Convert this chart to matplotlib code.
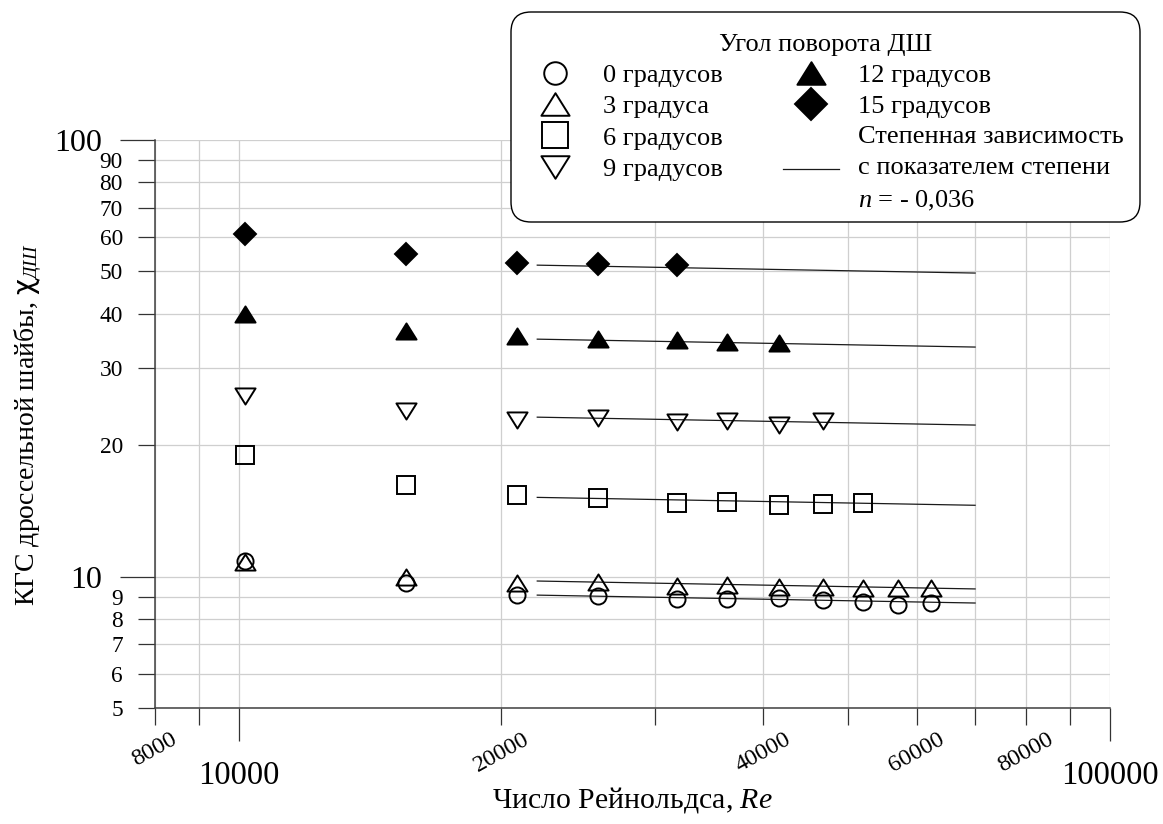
import matplotlib
matplotlib.use('Agg')
import matplotlib.pyplot as plt
import numpy as np
from matplotlib.ticker import FixedLocator, FixedFormatter
from matplotlib.lines import Line2D
from matplotlib.path import Path
from matplotlib.patches import FancyBboxPatch
from matplotlib.transforms import IdentityTransform

plt.rcParams['font.family'] = ['Liberation Serif', 'DejaVu Serif']
plt.rcParams['mathtext.fontset'] = 'custom'
plt.rcParams['mathtext.rm'] = 'Liberation Serif'
plt.rcParams['mathtext.it'] = 'Liberation Serif:italic'
plt.rcParams['mathtext.bf'] = 'Liberation Serif:bold'
plt.rcParams['mathtext.sf'] = 'DejaVu Sans'

# ---------------- data ----------------
re_vals = [10170, 15540, 20850, 25830, 31810, 36310, 41690, 46880, 52000, 57150, 62370]
k_0deg = [10.87, 9.68, 9.08, 9.04, 8.88, 8.88, 8.93, 8.85, 8.77, 8.62, 8.70]
k_3deg = [10.83, 10.0, 9.66, 9.71, 9.52, 9.57, 9.49, 9.49, 9.44, 9.41, 9.44]
k_6deg = [19.0, 16.23, 15.39, 15.12, 14.73, 14.81, 14.60, 14.68, 14.73]
k_9deg = [25.98, 24.0, 22.86, 23.06, 22.65, 22.77, 22.26, 22.73]
k_12deg = [40.0, 36.6, 35.5, 35.0, 34.8, 34.5, 34.35]
k_15deg = [60.9, 54.7, 52.4, 51.9, 51.7]

series_labels = ['0 градусов', '3 градуса', '6 градусов', '9 градусов', '12 градусов', '15 градусов']

fit_re = [22000, 70000]
fit_n = -0.036
fit_k_start = [9.08, 9.78, 15.2, 23.2, 35.0, 51.7]
fit_label = 'Степенная зависимость\nс показателем степени\n$n$ = - 0,036'

x_major = [10000, 100000]
x_minor = [8000, 9000, 20000, 30000, 40000, 50000, 60000, 70000, 80000, 90000]
x_minor_labels = ['8000', '', '20000', '', '40000', '', '60000', '', '80000', '']
y_major = [10, 100]
y_minor = [5, 6, 7, 8, 9, 20, 30, 40, 50, 60, 70, 80, 90]

# ---------------- figure ----------------
W, H = 1163, 824
fig = plt.figure(figsize=(W / 100, H / 100), dpi=100)
ax = fig.add_axes([154.6 / W, 1 - 708.3 / H, (1110 - 154.6) / W, (708.3 - 140) / H])
ax.set_xscale('log')
ax.set_yscale('log')
ax.set_xlim(8000, 100000)
ax.set_ylim(5, 100)

tri_up = Path([(-1, -0.8), (1, -0.8), (0, 0.8), (-1, -0.8)], closed=True)
tri_dn = Path([(-1, 0.8), (1, 0.8), (0, -0.8), (-1, 0.8)], closed=True)

styles = [
    dict(marker='o', ms=11.6, mfc='none'),
    dict(marker=tri_up, ms=14.5, mfc='none'),
    dict(marker='s', ms=13.5, mfc='none'),
    dict(marker=tri_dn, ms=14.5, mfc='none'),
    dict(marker=tri_up, ms=14.5, mfc='black'),
    dict(marker='D', ms=11.5, mfc='black'),
]
series = [k_0deg, k_3deg, k_6deg, k_9deg, k_12deg, k_15deg]

handles = []
for vals, st, lab in zip(series, styles, series_labels):
    h, = ax.plot(re_vals[:len(vals)], vals, ls='none', mec='black', mew=1.4,
                 label=lab, zorder=3, **st)
    handles.append(h)

fre = np.array(fit_re, dtype=float)
for c0 in fit_k_start:
    ax.plot(fre, c0 * (fre / fre[0]) ** fit_n, color='#1a1a1a', lw=0.9, zorder=2)
fit_handle = Line2D([], [], color='#1a1a1a', lw=0.9)

# ---------------- axes styling ----------------
ax.xaxis.set_major_locator(FixedLocator(x_major))
ax.xaxis.set_minor_locator(FixedLocator(x_minor))
ax.xaxis.set_major_formatter(FixedFormatter(['10000', '100000']))
ax.xaxis.set_minor_formatter(FixedFormatter(x_minor_labels))
ax.yaxis.set_major_locator(FixedLocator(y_major))
ax.yaxis.set_minor_locator(FixedLocator(y_minor))
ax.yaxis.set_major_formatter(FixedFormatter([str(v) for v in y_major]))
ax.yaxis.set_minor_formatter(FixedFormatter([str(v) for v in y_minor]))

ax.grid(True, which='both', color='#cfcfcf', lw=0.9, zorder=0)
ax.set_axisbelow(True)
for s in ['top', 'right']:
    ax.spines[s].set_visible(False)
for s in ['left', 'bottom']:
    ax.spines[s].set_color('#404040')
    ax.spines[s].set_linewidth(1.1)

ax.tick_params(axis='both', which='both', direction='out', color='#333333', width=0.9)
ax.tick_params(axis='y', which='major', length=25, labelsize=23, pad=13.0)
ax.tick_params(axis='y', which='minor', length=12.3, labelsize=16.8, pad=10.5)
ax.tick_params(axis='x', which='major', length=24, labelsize=23.5, pad=13.5)
ax.tick_params(axis='x', which='minor', length=12, labelsize=17.5, pad=3, labelrotation=29)

ax.set_xlabel('Число Рейнольдса, $Re$', fontsize=21.5)
ax.xaxis.label.set_va('center')
ax.xaxis.set_label_coords(0.5, (708.3 - 800) / (708.3 - 140))
ax.set_ylabel('КГС дроссельной шайбы, $\\mathsf{\\chi}_{ДШ}$', fontsize=20)
ax.yaxis.label.set_va('center')
ax.yaxis.set_label_coords((28 - 154.6) / (1110 - 154.6), 0.5)

# ---------------- legend ----------------
box = FancyBboxPatch((511, H - 222), 629, 210,
                     boxstyle='round,pad=0,rounding_size=20',
                     transform=IdentityTransform(), facecolor='white',
                     edgecolor='black', linewidth=1.0, zorder=1.5)
fig.add_artist(box)

leg = fig.legend(handles + [fit_handle], series_labels + [fit_label],
                 title='Угол поворота ДШ', ncol=2, fontsize=19, title_fontsize=19,
                 loc='upper right', bbox_to_anchor=(1124 / W, 1 - 33.5 / H),
                 frameon=False, markerscale=1.4, borderaxespad=0,
                 handlelength=2.1, handletextpad=0.75, columnspacing=2.3,
                 borderpad=0, labelspacing=0.3)
for t in leg.get_texts():
    t.set_linespacing(1.52)
leg.set_zorder(2)

fig.savefig('out.png', dpi=100)
